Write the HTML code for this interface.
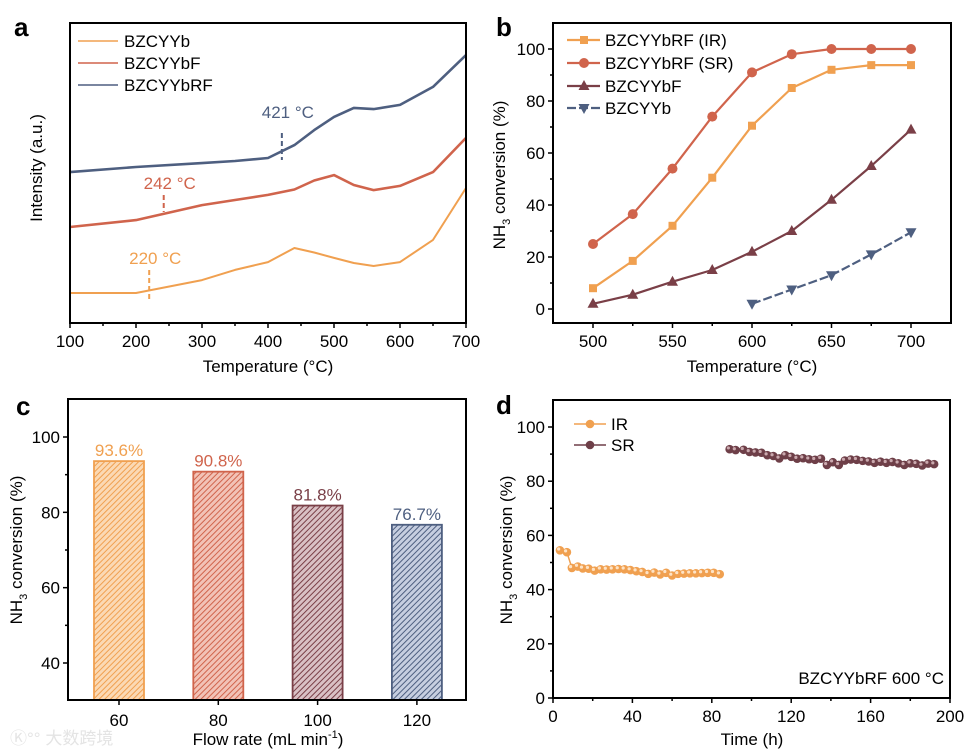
<!DOCTYPE html>
<html><head><meta charset="utf-8"><style>
body{margin:0;background:#fff;}
svg{display:block;font-family:"Liberation Sans","Noto Sans CJK SC",sans-serif;}
</style></head><body>
<svg id="fig" width="967" height="751" viewBox="0 0 967 751">
<defs>
<pattern id="h0" width="4" height="4" patternUnits="userSpaceOnUse" patternTransform="rotate(45)"><rect width="4" height="4" fill="#fbd9b4"/><line x1="0" y1="0" x2="0" y2="4" stroke="#f0a050" stroke-width="2"/></pattern>
<pattern id="h1" width="4" height="4" patternUnits="userSpaceOnUse" patternTransform="rotate(45)"><rect width="4" height="4" fill="#f2c2b6"/><line x1="0" y1="0" x2="0" y2="4" stroke="#d0644c" stroke-width="2"/></pattern>
<pattern id="h2" width="4" height="4" patternUnits="userSpaceOnUse" patternTransform="rotate(45)"><rect width="4" height="4" fill="#d9c0c4"/><line x1="0" y1="0" x2="0" y2="4" stroke="#7a3f47" stroke-width="2"/></pattern>
<pattern id="h3" width="4" height="4" patternUnits="userSpaceOnUse" patternTransform="rotate(45)"><rect width="4" height="4" fill="#c6cee0"/><line x1="0" y1="0" x2="0" y2="4" stroke="#4e5f80" stroke-width="2"/></pattern>
</defs>
</svg>
<script>
// ---- Panel a data ----
const aTemps = [100,200,300,350,400,440,470,500,530,560,600,650,700];
const aOrange = [10,10,14.3,17.7,20.3,25,23.5,21.7,20,19,20.3,27.7,45];
const aRed = [32,34.3,39.3,41,42.7,44.5,47.5,49.3,46,44.3,45.7,50.3,61.7];
const aBlue = [50.3,52,53.3,54,55,59.3,64.3,68.7,71.7,71.3,72.7,78.7,89.3];
const aXTicks = [100,200,300,400,500,600,700];
// ---- Panel b data ----
const bTemps = [500,525,550,575,600,625,650,675,700];
const bIR = [8,18.5,32,50.5,70.5,85,92,93.8,93.8];
const bSR = [25,36.5,54,74,91,98,100,100,100];
const bF = [2,5.5,10.5,15,22,30,42,55,69];
const bTempsB = [600,625,650,675,700];
const bB = [2,7.5,13,21,29.5];
const bXTicks = [500,550,600,650,700];
const bYTicks = [0,20,40,60,80,100];
// ---- Panel c data ----
const cCats = ["60","80","100","120"];
const cVals = [93.6,90.8,81.8,76.7];
const cLabels = ["93.6%","90.8%","81.8%","76.7%"];
const cYTicks = [40,60,80,100];
// ---- Panel d data ----
const dIRt = [3.5,7,9.5,12.5,15,18,21,24,27,30,33,36,39,42,45,48,51,54,57,60,63,66,69,72,75,78,81,84];
const dIRv = [54.5,53.8,48,48.5,47.8,47.7,47,47.5,47.4,47.5,47.6,47.5,47.2,46.8,46.5,45.8,46.3,45.6,46.2,45.2,45.8,45.9,46,46,46.1,46.2,46.2,45.7];
const dSRt = [89,92,96,99,102,105,108,111,114,117,120,123,126,129,132,135,138,141,144,147,150,153,156,159,162,165,168,171,174,177,180,183,186,189,192];
const dSRv = [91.8,91.5,91.6,90.8,90.6,90.5,89.6,89.3,88.4,89.6,89,88.3,88.5,88.1,87.9,88.3,86,87,86,87.6,88,87.9,87.5,87.3,86.8,87.2,86.8,87.1,86.6,86,86.6,86.4,85.8,86.5,86.3];
const dXTicks = [0,40,80,120,160,200];
const dYTicks = [0,20,40,60,80,100];

const NS="http://www.w3.org/2000/svg";
const svg=document.getElementById('fig');
function el(tag,attrs,parent){const e=document.createElementNS(NS,tag);for(const k in attrs)e.setAttribute(k,attrs[k]);(parent||svg).appendChild(e);return e;}
function txt(x,y,s,attrs,parent){const t=el('text',Object.assign({x:x,y:y},attrs||{}),parent);t.textContent=s;return t;}
function lin(d0,d1,r0,r1){return v=>r0+(v-d0)*(r1-r0)/(d1-d0);}
const C={o:"#f0a050",r:"#d0644c",m:"#7a3f47",b:"#4e5f80"};

function frame(g,x0,y0,x1,y1){
  const r=el('rect',{x:x0,y:y0,width:x1-x0,height:y1-y0,fill:"none",stroke:"#000","stroke-width":2},g);
  
}
function xTicks(g,ticks,sx,yb,minor){
  ticks.forEach(t=>{el('line',{x1:sx(t),x2:sx(t),y1:yb,y2:yb+5,stroke:"#000","stroke-width":1.5},g);
    const l=txt(sx(t),yb+24,String(t),{"font-size":17,"text-anchor":"middle"},g);
    });
  (minor||[]).forEach(t=>el('line',{x1:sx(t),x2:sx(t),y1:yb,y2:yb+3,stroke:"#000","stroke-width":1.5},g));
}
function yTicks(g,ticks,sy,xl,minor){
  ticks.forEach(t=>{el('line',{x1:xl-5,x2:xl,y1:sy(t),y2:sy(t),stroke:"#000","stroke-width":1.5},g);
    const l=txt(xl-8,sy(t)+6,String(t),{"font-size":17,"text-anchor":"end"},g);
    });
  (minor||[]).forEach(t=>el('line',{x1:xl-3,x2:xl,y1:sy(t),y2:sy(t),stroke:"#000","stroke-width":1.5},g));
}
function poly(g,xs,ys,sx,sy,color,dash,w){
  const p=el('polyline',{points:xs.map((x,i)=>sx(x)+","+sy(ys[i])).join(" "),fill:"none",stroke:color,"stroke-width":w||2,"stroke-linejoin":"round"},g);
  if(dash)p.setAttribute('stroke-dasharray',dash);return p;
}
function marker(g,type,x,y,color){
  if(type==='sq')return el('rect',{x:x-4,y:y-4,width:8,height:8,fill:color},g);
  if(type==='ci')return el('circle',{cx:x,cy:y,r:5,fill:color},g);
  if(type==='tu')return el('polygon',{points:`${x},${y-6} ${x-5.5},${y+4} ${x+5.5},${y+4}`,fill:color},g);
  if(type==='td')return el('polygon',{points:`${x},${y+6} ${x-5.5},${y-4} ${x+5.5},${y-4}`,fill:color},g);
}
function ylabelNH3(g,x,y){
  const t=el('text',{transform:`translate(${x},${y}) rotate(-90)`,"font-size":17,"text-anchor":"middle"},g);
  
  t.innerHTML='NH<tspan font-size="11" dy="5">3</tspan><tspan dy="-5"> conversion (%)</tspan>';
}

// ===== Panel a =====
(function(){
  const g=el('g',{});
  const sx=lin(100,700,70,466), sy=lin(0,100,323,23);
  const l=txt(14,36,"a",{"font-size":26,"font-weight":"bold"},g);
  [[aOrange,C.o,'series-bzcyyb',2],[aRed,C.r,'series-bzcyybf',2.6],[aBlue,C.b,'series-bzcyybrf',2.6]].forEach(s=>{
    const p=poly(g,aTemps,s[0],sx,sy,s[1],null,s[3]);});
  frame(g,70,23,466,323);
  xTicks(g,aXTicks,sx,323,[150,250,350,450,550,650]);
  const xt=txt(268,372,"Temperature (°C)",{"font-size":17,"text-anchor":"middle"},g);
  const yt=txt(0,0,"Intensity (a.u.)",{"font-size":17,"text-anchor":"middle",transform:"translate(42,168) rotate(-90)"},g);
  [["BZCYYb",C.o,41],["BZCYYbF",C.r,63],["BZCYYbRF",C.b,85]].forEach(e=>{
    el('line',{x1:78,x2:118,y1:e[2],y2:e[2],stroke:e[1],"stroke-width":1.6},g);
    const t=txt(124,e[2]+6,e[0],{"font-size":17},g);});
  [[421,"421 °C",C.b,118,133,160],[242,"242 °C",C.r,189,195,212],[220,"220 °C",C.o,264,270,300]].forEach(a=>{
    el('line',{x1:sx(a[0]),x2:sx(a[0]),y1:a[4],y2:a[5],stroke:a[2],"stroke-width":2,"stroke-dasharray":"5,3"},g);
    const t=txt(sx(a[0])+6,a[3],a[1],{"font-size":17,"text-anchor":"middle",fill:a[2]},g);});
})();

// ===== Panel b =====
(function(){
  const g=el('g',{});
  const sx=lin(500,700,593,911), sy=lin(0,100,309,49);
  const l=txt(496,36,"b",{"font-size":26,"font-weight":"bold"},g);
  const series=[[bTemps,bIR,C.o,'sq','series-ir',null],[bTemps,bSR,C.r,'ci','series-sr',null],[bTemps,bF,C.m,'tu','series-bzcyybf',null],[bTempsB,bB,C.b,'td','series-bzcyyb','9,3']];
  series.forEach(s=>{const p=poly(g,s[0],s[1],sx,sy,s[2],s[5],2.2);
    s[0].forEach((x,i)=>{const m=marker(g,s[3],sx(x),sy(s[1][i]),s[2]);});});
  frame(g,553,23,951,323);
  xTicks(g,bXTicks,sx,323,[525,575,625,675]);
  yTicks(g,bYTicks,sy,553,[10,30,50,70,90]);
  const xt=txt(752,372,"Temperature (°C)",{"font-size":17,"text-anchor":"middle"},g);
  ylabelNH3(g,505,175);
  [["BZCYYbRF (IR)",C.o,'sq',40,null],["BZCYYbRF (SR)",C.r,'ci',63,null],["BZCYYbF",C.m,'tu',86,null],["BZCYYb",C.b,'td',108,'9,3']].forEach(e=>{
    const ln=el('line',{x1:567,x2:600,y1:e[3],y2:e[3],stroke:e[1],"stroke-width":2.2},g);if(e[4])ln.setAttribute('stroke-dasharray',e[4]);
    marker(g,e[2],584,e[3],e[1]);
    const t=txt(605,e[3]+6,e[0],{"font-size":17},g);});
})();

// ===== Panel c =====
(function(){
  const g=el('g',{});
  const sy=lin(40,100,663,437), sx=i=>119+i*99.3;
  const l=txt(16,415,"c",{"font-size":26,"font-weight":"bold"},g);
  const cols=[C.o,C.r,C.m,C.b];
  cVals.forEach((v,i)=>{
    const b=el('rect',{x:sx(i)-25,y:sy(v),width:50,height:700-sy(v),fill:`url(#h${i})`,stroke:cols[i],"stroke-width":1.8},g);
    
    const t=txt(sx(i),sy(v)-5,cLabels[i],{"font-size":17,"text-anchor":"middle",fill:cols[i]},g);
  });
  frame(g,68,399,466,700);
  cCats.forEach((c,i)=>{el('line',{x1:sx(i),x2:sx(i),y1:700,y2:705,stroke:"#000","stroke-width":1.5},g);
    const t=txt(sx(i),726,c,{"font-size":17,"text-anchor":"middle"},g);});
  yTicks(g,cYTicks,sy,68,[50,70,90]);
  const xt=el('text',{x:268,y:745,"font-size":17,"text-anchor":"middle"},g);
  xt.innerHTML='Flow rate (mL min<tspan font-size="11" dy="-7">-1</tspan><tspan dy="7">)</tspan>';
  ylabelNH3(g,22,550);
  const w=txt(10,744,"Ⓚ°° 大数跨境",{"font-size":17,fill:"#e4e4e4"},g);
})();

// ===== Panel d =====
(function(){
  const g=el('g',{});
  const sx=lin(0,200,553,950), sy=lin(0,100,698,427);
  const l=txt(496,414,"d",{"font-size":26,"font-weight":"bold"},g);
  [[dIRt,dIRv,C.o,'#fde3c6','series-ir'],[dSRt,dSRv,"#6e3f48",'#caa9ae','series-sr']].forEach(s=>{
    const p=poly(g,s[0],s[1],sx,sy,s[2],null,1.5);
    s[0].forEach((x,i)=>{const c=el('circle',{cx:sx(x),cy:sy(s[1][i]),r:4.3,fill:s[2]},g);
      el('circle',{cx:sx(x)-1.3,cy:sy(s[1][i])-1.3,r:1.6,fill:s[3]},g);});
  });
  frame(g,553,400,950,698);
  xTicks(g,dXTicks,sx,698,[20,60,100,140,180]);
  yTicks(g,dYTicks,sy,553,[10,30,50,70,90]);
  const xt=txt(752,745,"Time (h)",{"font-size":17,"text-anchor":"middle"},g);
  ylabelNH3(g,512,550);
  [["IR",C.o,'#fde3c6',424],["SR","#6e3f48",'#caa9ae',445]].forEach(e=>{
    el('line',{x1:574,x2:606,y1:e[3],y2:e[3],stroke:e[1],"stroke-width":1.5},g);
    el('circle',{cx:590,cy:e[3],r:4.3,fill:e[1]},g);
    const t=txt(611,e[3]+6,e[0],{"font-size":17},g);});
  const an=txt(944,684,"BZCYYbRF  600 °C",{"font-size":17,"text-anchor":"end"},g);
})();
</script>
</body></html>
